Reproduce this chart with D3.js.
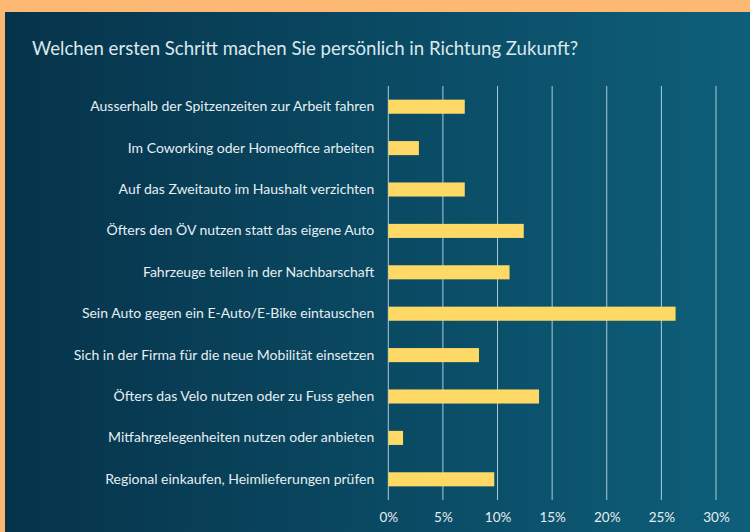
<!DOCTYPE html>
<html><head><meta charset="utf-8">
<script src="https://cdn.jsdelivr.net/npm/d3@7"></script>
<style>html,body{margin:0;padding:0;background:#FDB974;}svg{display:block;}</style>
</head><body>
<svg id="chart" width="750" height="532"></svg>
<script>
const categories = [
  "Ausserhalb der Spitzenzeiten zur Arbeit fahren",
  "Im Coworking oder Homeoffice arbeiten",
  "Auf das Zweitauto im Haushalt verzichten",
  "Öfters den ÖV nutzen statt das eigene Auto",
  "Fahrzeuge teilen in der Nachbarschaft",
  "Sein Auto gegen ein E-Auto/E-Bike eintauschen",
  "Sich in der Firma für die neue Mobilität einsetzen",
  "Öfters das Velo nutzen oder zu Fuss gehen",
  "Mitfahrgelegenheiten nutzen oder anbieten",
  "Regional einkaufen, Heimlieferungen prüfen"
];
const values = [0.07, 0.028, 0.07, 0.124, 0.111, 0.263, 0.083, 0.138, 0.0135, 0.097];
const tickValues = [0, 0.05, 0.10, 0.15, 0.20, 0.25, 0.30];
const title = "Welchen ersten Schritt machen Sie persönlich in Richtung Zukunft?";

const svg = d3.select("#chart");
const defs = svg.append("defs");
const grad = defs.append("linearGradient").attr("id","bg").attr("x1","0").attr("x2","1").attr("y1","0").attr("y2","0");
grad.append("stop").attr("offset","0%").attr("stop-color","#06334A");
grad.append("stop").attr("offset","100%").attr("stop-color","#0E5F7A");

svg.append("rect").attr("x",0).attr("y",0).attr("width",750).attr("height",532).attr("fill","#FDB974");
svg.append("rect").attr("x",5).attr("y",12).attr("width",745).attr("height",520).attr("fill","url(#bg)");

const font = "Lato, 'Open Sans', sans-serif";

svg.append("text").attr("x",32).attr("y",55).text(title)
  .attr("fill","#DCE8EE").attr("font-family",font).attr("font-size",18.6);

const x = d3.scaleLinear().domain([0,0.30]).range([388.3,716]);
const y = d3.scaleBand().domain(categories).range([86,500]).paddingInner(0.66).paddingOuter(0.33);

// gridlines
svg.append("g").selectAll("line").data(tickValues).join("line")
  .attr("x1",d=>x(d)).attr("x2",d=>x(d)).attr("y1",86).attr("y2",500)
  .attr("stroke","#A9CCDC").attr("stroke-width",1);

// bars
svg.append("g").selectAll("rect").data(values).join("rect")
  .attr("x",x(0)).attr("y",(d,i)=>y(categories[i]))
  .attr("width",d=>x(d)-x(0)).attr("height",y.bandwidth())
  .attr("fill","#FFD966");

// category labels
const yAxis = svg.append("g").attr("transform",`translate(${x(0)},0)`)
  .call(d3.axisLeft(y).tickSize(0).tickPadding(14));
yAxis.select(".domain").remove();
yAxis.selectAll("text").attr("fill","#E6EEF2").attr("font-family",font).attr("font-size",14);

// x axis labels
const xAxis = svg.append("g").attr("transform","translate(0,508)")
  .call(d3.axisBottom(x).tickValues(tickValues).tickFormat(d3.format(".0%")).tickSize(0).tickPadding(4));
xAxis.select(".domain").remove();
xAxis.selectAll("text").attr("fill","#E6EEF2").attr("font-family",font).attr("font-size",13.5);
</script>
</body></html>
